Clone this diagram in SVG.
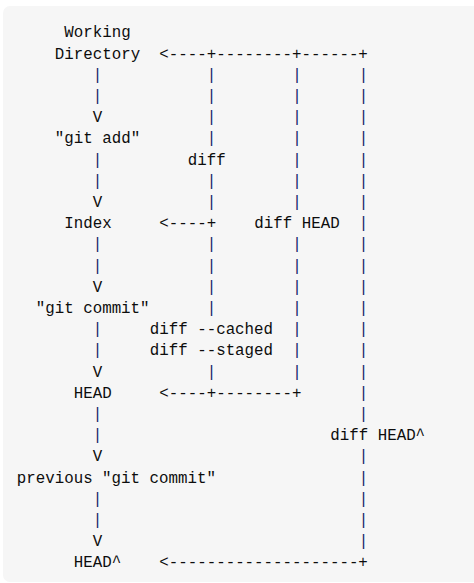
<svg xmlns="http://www.w3.org/2000/svg" width="474" height="583" viewBox="0 0 474 583">
<style>
text{font-family:"Liberation Mono","DejaVu Sans Mono",monospace;font-size:15.8px;fill:#0d0d0d;white-space:pre}
.bar{fill:#14206a}
</style>
<rect x="0" y="0" width="474" height="583" fill="#ffffff"/>
<rect x="3" y="6" width="480" height="576" rx="7" fill="#f6f6f6"/>
<g id="connectors" xml:space="preserve">
<text x="159.3" y="58.5">&lt;----+--------+------+</text>
<text class="bar" x="92.8" y="79.7">|</text><text class="bar" x="206.8" y="79.7">|</text><text class="bar" x="292.3" y="79.7">|</text><text class="bar" x="358.8" y="79.7">|</text>
<text class="bar" x="92.8" y="100.9">|</text><text class="bar" x="206.8" y="100.9">|</text><text class="bar" x="292.3" y="100.9">|</text><text class="bar" x="358.8" y="100.9">|</text>
<text x="92.8" y="122.1">V</text><text class="bar" x="206.8" y="122.1">|</text><text class="bar" x="292.3" y="122.1">|</text><text class="bar" x="358.8" y="122.1">|</text>
<text class="bar" x="206.8" y="143.3">|</text><text class="bar" x="292.3" y="143.3">|</text><text class="bar" x="358.8" y="143.3">|</text>
<text class="bar" x="92.8" y="164.5">|</text><text class="bar" x="292.3" y="164.5">|</text><text class="bar" x="358.8" y="164.5">|</text>
<text class="bar" x="92.8" y="185.7">|</text><text class="bar" x="206.8" y="185.7">|</text><text class="bar" x="292.3" y="185.7">|</text><text class="bar" x="358.8" y="185.7">|</text>
<text x="92.8" y="206.9">V</text><text class="bar" x="206.8" y="206.9">|</text><text class="bar" x="292.3" y="206.9">|</text><text class="bar" x="358.8" y="206.9">|</text>
<text x="159.3" y="228.1">&lt;----+</text><text class="bar" x="358.8" y="228.1">|</text>
<text class="bar" x="92.8" y="249.3">|</text><text class="bar" x="206.8" y="249.3">|</text><text class="bar" x="292.3" y="249.3">|</text><text class="bar" x="358.8" y="249.3">|</text>
<text class="bar" x="92.8" y="270.5">|</text><text class="bar" x="206.8" y="270.5">|</text><text class="bar" x="292.3" y="270.5">|</text><text class="bar" x="358.8" y="270.5">|</text>
<text x="92.8" y="291.7">V</text><text class="bar" x="206.8" y="291.7">|</text><text class="bar" x="292.3" y="291.7">|</text><text class="bar" x="358.8" y="291.7">|</text>
<text class="bar" x="206.8" y="312.9">|</text><text class="bar" x="292.3" y="312.9">|</text><text class="bar" x="358.8" y="312.9">|</text>
<text class="bar" x="92.8" y="334.1">|</text><text class="bar" x="292.3" y="334.1">|</text><text class="bar" x="358.8" y="334.1">|</text>
<text class="bar" x="92.8" y="355.3">|</text><text class="bar" x="292.3" y="355.3">|</text><text class="bar" x="358.8" y="355.3">|</text>
<text x="92.8" y="376.5">V</text><text class="bar" x="206.8" y="376.5">|</text><text class="bar" x="292.3" y="376.5">|</text><text class="bar" x="358.8" y="376.5">|</text>
<text x="159.3" y="397.7">&lt;----+--------+</text><text class="bar" x="358.8" y="397.7">|</text>
<text class="bar" x="92.8" y="418.9">|</text><text class="bar" x="358.8" y="418.9">|</text>
<text class="bar" x="92.8" y="440.1">|</text>
<text x="92.8" y="461.3">V</text><text class="bar" x="358.8" y="461.3">|</text>
<text class="bar" x="358.8" y="482.5">|</text>
<text class="bar" x="92.8" y="503.7">|</text><text class="bar" x="358.8" y="503.7">|</text>
<text class="bar" x="92.8" y="524.9">|</text><text class="bar" x="358.8" y="524.9">|</text>
<text x="92.8" y="546.1">V</text><text class="bar" x="358.8" y="546.1">|</text>
<text x="159.3" y="567.3">&lt;--------------------+</text>
</g>
<g id="labels" xml:space="preserve">
<text x="187.8" y="164.5">diff</text>
<text x="254.3" y="228.1">diff HEAD</text>
<text x="149.8" y="334.1">diff --cached</text>
<text x="149.8" y="355.3">diff --staged</text>
<text x="330.3" y="440.1">diff HEAD^</text>
</g>
<g id="node-working-directory"><text x="64.3" y="37.3">Working</text><text x="54.8" y="58.5">Directory</text></g>
<g id="node-git-add"><text x="54.8" y="143.3">"git add"</text></g>
<g id="node-index"><text x="64.3" y="228.1">Index</text></g>
<g id="node-git-commit"><text x="35.8" y="312.9">"git commit"</text></g>
<g id="node-head"><text x="73.8" y="397.7">HEAD</text></g>
<g id="node-previous-commit" xml:space="preserve"><text x="16.8" y="482.5">previous "git commit"</text></g>
<g id="node-head-parent"><text x="73.8" y="567.3">HEAD^</text></g>
</svg>
